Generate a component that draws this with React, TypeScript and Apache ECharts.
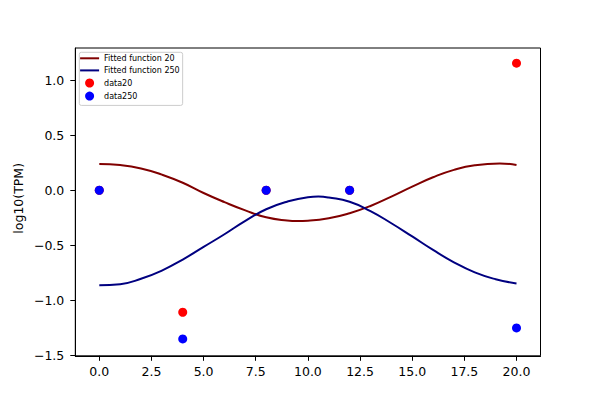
import React, { useEffect, useRef } from "react";
import * as echarts from "echarts";

// Fitted curves (extra samples at the turning points)
const fit20X = [0, 1, 2, 3, 4, 5, 6, 7, 8, 9, 9.5, 10, 11, 12, 13, 14, 15, 16, 17, 18, 19.2, 20];
const fit20Values = [0.239, 0.229, 0.198, 0.142, 0.068, -0.025, -0.108, -0.183, -0.246, -0.275, -0.28, -0.277, -0.255, -0.209, -0.143, -0.058, 0.033, 0.118, 0.185, 0.227, 0.243, 0.23];
const fit250X = [0, 1, 2, 3, 4, 5, 6, 7, 8, 9, 10, 10.5, 11, 12, 13, 14, 15, 16, 17, 18, 19, 20];
const fit250Values = [-0.864, -0.854, -0.805, -0.73, -0.63, -0.515, -0.4, -0.278, -0.173, -0.104, -0.064, -0.058, -0.066, -0.104, -0.19, -0.3, -0.42, -0.543, -0.655, -0.747, -0.809, -0.847];

// Measured data points
const dataX = [0, 4, 8, 12, 20];
const data20Values = [0, -1.109, 0, 0, 1.155];
const data250Values = [0, -1.352, 0, 0, -1.252];

// Tick labels
const xTicks = [0, 2.5, 5, 7.5, 10, 12.5, 15, 17.5, 20];
const yTicks = [-1.5, -1.0, -0.5, 0.0, 0.5, 1.0];

const FONT = "DejaVu Sans";
const LINE_ICON = "path://M0,0H19V2H0Z";
const fmt = (v: number) => {
  const s = Math.abs(v).toFixed(1);
  return v < 0 ? "\u2212" + s : s;
};

export default function App() {
  const ref = useRef<HTMLDivElement>(null);

  useEffect(() => {
    if (!ref.current) return;
    const chart = echarts.init(ref.current, undefined, { renderer: "svg" });
    const pair = (xs: number[], ys: number[]) => xs.map((x, i) => [x, ys[i]]);

    chart.setOption({
      animation: false,
      backgroundColor: "#ffffff",
      textStyle: { fontFamily: FONT },
      grid: {
        left: 75.3,
        top: 48,
        right: 59.5,
        bottom: 44.2,
        show: true,
        borderColor: "#000000",
        borderWidth: 1,
        containLabel: false,
      },
      legend: {
        orient: "vertical",
        left: 79.3,
        top: 52.3,
        data: [
          { name: "Fitted function 20", icon: LINE_ICON },
          { name: "Fitted function 250", icon: LINE_ICON },
          { name: "data20", icon: "circle" },
          { name: "data250", icon: "circle" },
        ],
        itemWidth: 19,
        itemHeight: 9,
        itemGap: 4.1,
        padding: [2, 3, 4.8, 0.8],
        backgroundColor: "rgba(255,255,255,0.8)",
        borderColor: "#cccccc",
        borderWidth: 1,
        borderRadius: 2,
        textStyle: { fontFamily: FONT, fontSize: 8, color: "#000000" },
      },
      xAxis: {
        type: "value",
        min: -1.15,
        max: 21.15,
        splitLine: { show: false },
        axisLine: { show: true, onZero: false, lineStyle: { color: "#000000", width: 1 } },
        axisTick: {
          show: true,
          length: 5,
          customValues: xTicks,
          lineStyle: { color: "#000000", width: 1 },
        },
        axisLabel: {
          customValues: xTicks,
          formatter: (v: number) => fmt(v),
          fontFamily: FONT,
          fontSize: 12.5,
          color: "#000000",
          margin: 9,
        },
      },
      yAxis: {
        type: "value",
        min: -1.505,
        max: 1.293,
        splitLine: { show: false },
        axisLine: { show: true, onZero: false, lineStyle: { color: "#000000", width: 1 } },
        axisTick: {
          show: true,
          length: 5,
          customValues: yTicks,
          lineStyle: { color: "#000000", width: 1 },
        },
        axisLabel: {
          customValues: yTicks,
          formatter: (v: number) => fmt(v),
          fontFamily: FONT,
          fontSize: 12.5,
          color: "#000000",
          margin: 11,
        },
      },
      graphic: [
        {
          type: "text",
          x: 18.3,
          y: 198.3,
          rotation: Math.PI / 2,
          style: {
            text: "log10(TPM)",
            fontFamily: FONT,
            fontSize: 12.5,
            fill: "#000000",
            align: "center",
            verticalAlign: "middle",
          },
        },
      ],
      series: [
        {
          name: "data20",
          type: "scatter",
          data: pair(dataX, data20Values),
          symbol: "circle",
          symbolSize: 9,
          itemStyle: { color: "#ff0000", opacity: 1 },
          z: 1,
        },
        {
          name: "data250",
          type: "scatter",
          data: pair(dataX, data250Values),
          symbol: "circle",
          symbolSize: 9,
          itemStyle: { color: "#0000ff", opacity: 1 },
          z: 1,
        },
        {
          name: "Fitted function 20",
          type: "line",
          data: pair(fit20X, fit20Values),
          showSymbol: false,
          symbol: "none",
          smooth: 0.5,
          lineStyle: { color: "#800000", width: 2 },
          itemStyle: { color: "#800000" },
          z: 2,
        },
        {
          name: "Fitted function 250",
          type: "line",
          data: pair(fit250X, fit250Values),
          showSymbol: false,
          symbol: "none",
          smooth: 0.5,
          lineStyle: { color: "#000080", width: 2 },
          itemStyle: { color: "#000080" },
          z: 2,
        },
      ],
    });

    return () => chart.dispose();
  }, []);

  return (
    <div
      ref={ref}
      style={{ position: "fixed", left: 0, top: 0, width: 600, height: 400, background: "#ffffff" }}
    />
  );
}
